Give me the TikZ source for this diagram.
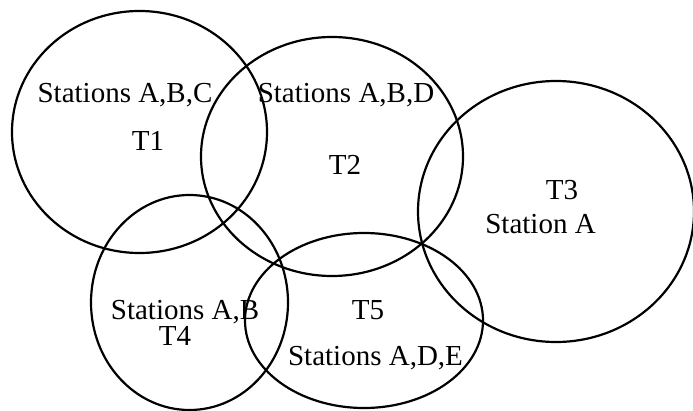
\documentclass[tikz,border=0pt]{standalone}
\usepackage{fontspec}
\setmainfont{Liberation Serif}
\begin{document}
\begin{tikzpicture}[x=1pt,y=-1pt,
  zone/.style={line width=2.2pt},
  lbl/.style={anchor=base, inner sep=0pt, font=\fontsize{29}{31}\selectfont}]
\useasboundingbox (0,0) rectangle (693,411);
% coverage areas
\draw[zone] (139.5,132) ellipse [x radius=127.5pt, y radius=121pt];
\draw[zone] (332,156.5) ellipse [x radius=131pt, y radius=119.5pt];
\draw[zone] (556,211.5) ellipse [x radius=138pt, y radius=130.5pt];
\draw[zone] (189.5,302.5) ellipse [x radius=98.5pt, y radius=107.5pt];
\draw[zone] (364,320.5) ellipse [x radius=119pt, y radius=87.5pt];
% labels
\node[lbl] (s1) at (125,103) {Stations A,B,C};
\node[lbl] (t1) at (148,151) {T1};
\node[lbl] (s2) at (346,103) {Stations A,B,D};
\node[lbl] (t2) at (345,175) {T2};
\node[lbl] (t3) at (562,200) {T3};
\node[lbl] (s3) at (540.5,234) {Station A};
\node[lbl] (s4) at (185,320) {Stations A,B};
\node[lbl] (t4) at (175,345) {T4};
\node[lbl] (t5) at (368,320) {T5};
\node[lbl] (s5) at (375.5,366) {Stations A,D,E};
\end{tikzpicture}
\end{document}
